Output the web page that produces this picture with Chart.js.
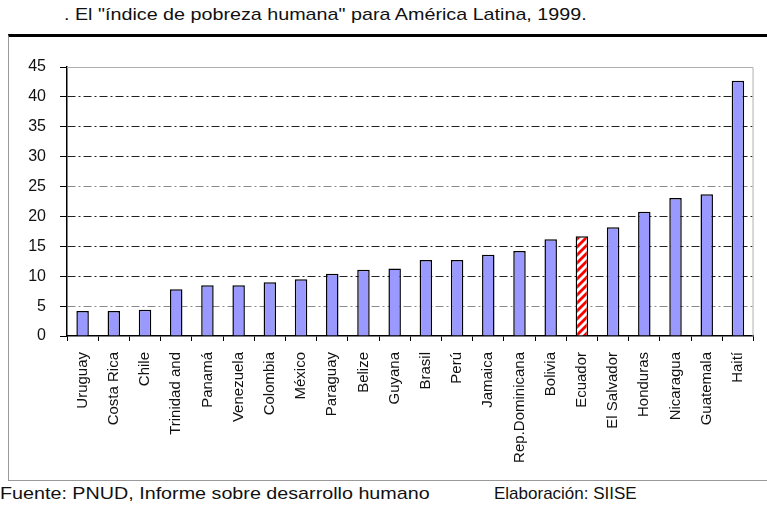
<!DOCTYPE html>
<html>
<head>
<meta charset="utf-8">
<script src="https://cdn.jsdelivr.net/npm/chart.js@4/dist/chart.umd.min.js"></script>
<style>
  html, body { margin: 0; padding: 0; background: #fff; }
  body { width: 767px; height: 508px; position: relative; overflow: hidden; font-family: "Liberation Sans", Arial, sans-serif; }
  #frame { position: absolute; left: 8px; top: 34px; width: 770px; height: 447px; border-top: 3px solid #000; border-left: 1px solid #999; border-bottom: 1px solid #999; box-sizing: border-box; }
  .txt { position: absolute; color: #111; white-space: nowrap; transform-origin: 0 0; }
  #title { left: 64px; top: 5px; font-size: 17px; transform: scaleX(1.16); }
  #src { left: 0px; top: 484px; font-size: 17px; transform: scaleX(1.16); }
  #elab { left: 494px; top: 484px; font-size: 17px; transform: scaleX(1.0); }
  #wrap { position: absolute; left: 0; top: 0; width: 767px; height: 508px; }
</style>
</head>
<body>
<div id="frame"></div>
<div id="title" class="txt">. El "índice de pobreza humana" para América Latina, 1999.</div>
<div id="src" class="txt">Fuente: PNUD, Informe sobre desarrollo humano</div>
<div id="elab" class="txt">Elaboración: SIISE</div>
<div id="wrap"><canvas id="c" width="767" height="508"></canvas></div>
<script>
const countries = ["Uruguay","Costa Rica","Chile","Trinidad and","Panamá","Venezuela","Colombia","México","Paraguay","Belize","Guyana","Brasil","Perú","Jamaica","Rep.Dominicana","Bolivia","Ecuador","El Salvador","Honduras","Nicaragua","Guatemala","Haití"];
const iphValues = [4.2,4.2,4.4,7.8,8.5,8.5,9.0,9.5,10.4,11.1,11.3,12.7,12.7,13.6,14.2,16.2,16.7,18.2,20.8,23.1,23.7,42.7];
const highlighted = ["Ecuador"];
const yTicks = [0,5,10,15,20,25,30,35,40,45];

function stripePattern() {
  const p = 8;
  const cv = document.createElement('canvas');
  cv.width = p; cv.height = p;
  const g = cv.getContext('2d');
  g.fillStyle = '#fff'; g.fillRect(0,0,p,p);
  g.strokeStyle = '#ff0000'; g.lineWidth = 2.8;
  for (let k = -1; k <= 1; k++) {
    g.beginPath();
    g.moveTo(k*p - 1, p + 1);
    g.lineTo(k*p + p + 1, -1);
    g.stroke();
  }
  return g.createPattern(cv, 'repeat');
}
const stripes = stripePattern();
const FONT = '"Liberation Sans", Arial, sans-serif';

const plotFrame = {
  id: 'plotFrame',
  beforeDatasetsDraw(chart) {
    const {ctx, chartArea: a} = chart;
    ctx.save();
    ctx.strokeStyle = '#b0b0b0';
    ctx.lineWidth = 1;
    ctx.beginPath();
    ctx.moveTo(a.left, a.top + 0.5);
    ctx.lineTo(a.right - 0.5, a.top + 0.5);
    ctx.lineTo(a.right - 0.5, a.bottom);
    ctx.stroke();
    ctx.restore();
  }
};

new Chart(document.getElementById('c'), {
  type: 'bar',
  data: {
    labels: countries,
    datasets: [{
      data: iphValues,
      backgroundColor: countries.map(c => highlighted.includes(c) ? stripes : '#9999ff'),
      borderColor: '#000',
      borderWidth: 1.5,
      categoryPercentage: 1,
      barPercentage: 0.4
    }]
  },
  plugins: [plotFrame],
  options: {
    responsive: false,
    animation: false,
    layout: { padding: { left: 0, top: 67, right: 3, bottom: 0 } },
    plugins: { legend: { display: false }, title: { display: false }, tooltip: { enabled: false } },
    scales: {
      x: {
        afterFit(s) { s.height = 172; },
        grid: { display: true, drawOnChartArea: false, offset: true, tickLength: 5, tickColor: '#000', tickWidth: 1 },
        border: { display: true, color: '#000', width: 1.5 },
        ticks: {
          autoSkip: false, minRotation: 90, maxRotation: 90, padding: 11,
          color: '#111', font: { family: FONT, size: 15 }
        }
      },
      y: {
        min: 0, max: 45,
        afterFit(s) { s.width = 67; },
        afterBuildTicks(s) { s.ticks = yTicks.map(v => ({ value: v })); },
        grid: {
          drawTicks: true, tickLength: 7, tickColor: '#000', tickWidth: 1,
          lineWidth: 1,
          color: ctx => {
            const v = ctx.tick ? ctx.tick.value : null;
            if (v === 0 || v === 45) return 'rgba(0,0,0,0)';
            if (v === 5 || v === 25) return '#8a8a8a';
            return '#222';
          }
        },
        border: { display: true, color: '#000', width: 1.5, dash: [8,3,2,3] },
        ticks: {
          padding: 14, color: '#111', font: { family: FONT, size: 16 },
          callback: v => String(v)
        }
      }
    }
  }
});
</script>
</body>
</html>
